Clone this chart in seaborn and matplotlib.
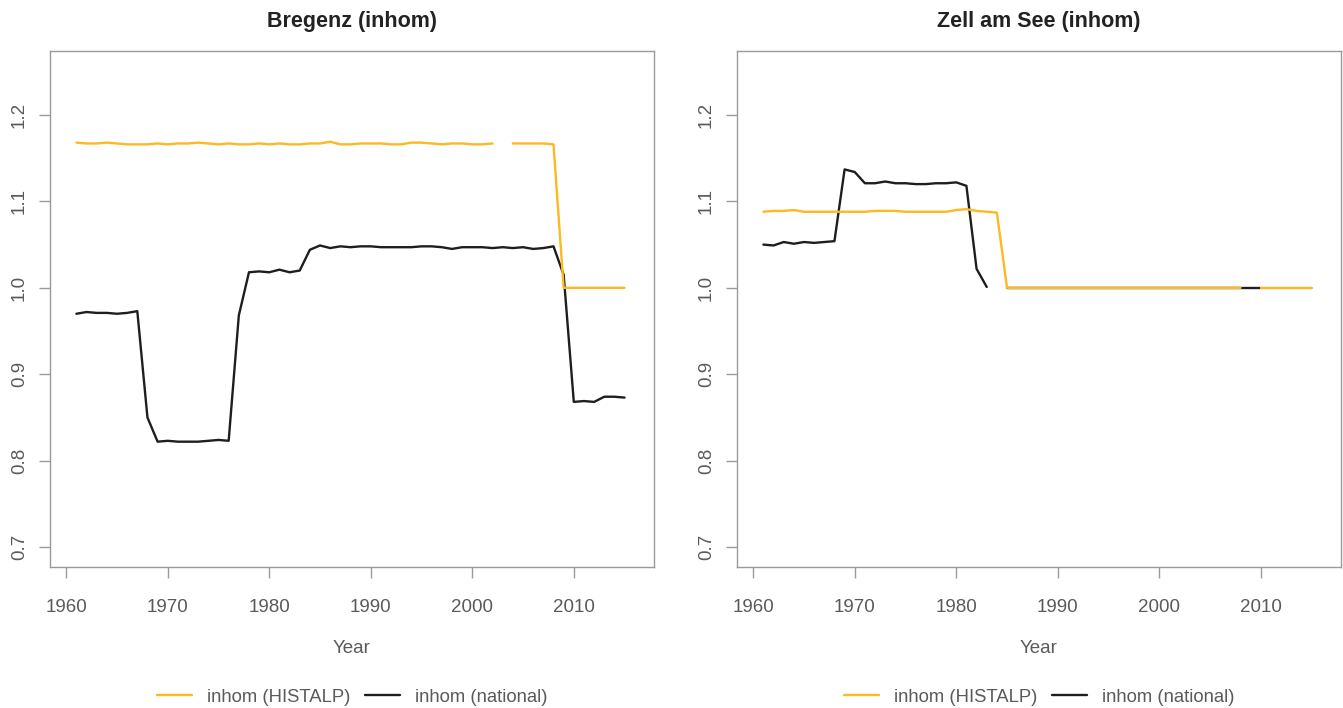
import numpy as np
import pandas as pd
import matplotlib
matplotlib.use("Agg")
import matplotlib.pyplot as plt
import seaborn as sns
from matplotlib.lines import Line2D

years = list(range(1961, 2016))

nan = np.nan
bregenz_histalp = [
    1.168, 1.167, 1.167, 1.168, 1.167, 1.166, 1.166, 1.166, 1.167, 1.166,
    1.167, 1.167, 1.168, 1.167, 1.166, 1.167, 1.166, 1.166, 1.167, 1.166,
    1.167, 1.166, 1.166, 1.167, 1.167, 1.169, 1.166, 1.166, 1.167, 1.167,
    1.167, 1.166, 1.166, 1.168, 1.168, 1.167, 1.166, 1.167, 1.167, 1.166,
    1.166, 1.167, nan, 1.167, 1.167, 1.167, 1.167, 1.166, 1.000, 1.000,
    1.000, 1.000, 1.000, 1.000, 1.000,
]
bregenz_national = [
    0.970, 0.972, 0.971, 0.971, 0.970, 0.971, 0.973, 0.850, 0.822, 0.823,
    0.822, 0.822, 0.822, 0.823, 0.824, 0.823, 0.968, 1.018, 1.019, 1.018,
    1.021, 1.018, 1.020, 1.044, 1.049, 1.046, 1.048, 1.047, 1.048, 1.048,
    1.047, 1.047, 1.047, 1.047, 1.048, 1.048, 1.047, 1.045, 1.047, 1.047,
    1.047, 1.046, 1.047, 1.046, 1.047, 1.045, 1.046, 1.048, 1.015, 0.868,
    0.869, 0.868, 0.874, 0.874, 0.873,
]
zell_histalp = [
    1.088, 1.089, 1.089, 1.090, 1.088, 1.088, 1.088, 1.088, 1.088, 1.088,
    1.088, 1.089, 1.089, 1.089, 1.088, 1.088, 1.088, 1.088, 1.088, 1.090,
    1.091, 1.089, 1.088, 1.087, 1.000, 1.000, 1.000, 1.000, 1.000, 1.000,
    1.000, 1.000, 1.000, 1.000, 1.000, 1.000, 1.000, 1.000, 1.000, 1.000,
    1.000, 1.000, 1.000, 1.000, 1.000, 1.000, 1.000, 1.000, nan, 1.000,
    1.000, 1.000, 1.000, 1.000, 1.000,
]
zell_national = [
    1.050, 1.049, 1.053, 1.051, 1.053, 1.052, 1.053, 1.054, 1.137, 1.134,
    1.121, 1.121, 1.123, 1.121, 1.121, 1.120, 1.120, 1.121, 1.121, 1.122,
    1.118, 1.022, 1.001, nan, 1.000, 1.000, 1.000, 1.000, 1.000, 1.000,
    1.000, 1.000, 1.000, 1.000, 1.000, 1.000, 1.000, 1.000, 1.000, 1.000,
    1.000, 1.000, 1.000, 1.000, 1.000, 1.000, 1.000, 1.000, 1.000, 1.000,
    nan, nan, nan, nan, nan,
]

panels = [
    ("Bregenz (inhom)", bregenz_histalp, bregenz_national),
    ("Zell am See (inhom)", zell_histalp, zell_national),
]
labels = ["inhom (HISTALP)", "inhom (national)"]
c_hist = "#fdb921"
c_nat = "#1e1e1e"
grey = "#9a9a9a"
txt = "#5a5a5a"

sns.set_theme(style="white")
plt.rcParams["font.family"] = ["Liberation Sans", "DejaVu Sans"]


def to_segments(vals):
    # break the series at missing years so gaps stay visible
    df = pd.DataFrame({"Year": years, "value": vals})
    df["seg"] = df["value"].isna().cumsum()
    return df.dropna()


fig = plt.figure(figsize=(13.43, 7.08), dpi=100)
lefts = [50 / 1343, 737 / 1343]
for (title, hist, nat), left in zip(panels, lefts):
    ax = fig.add_axes([left, 1 - 567 / 708, 604 / 1343, 516 / 708])
    sns.lineplot(data=to_segments(nat), x="Year", y="value", units="seg",
                 estimator=None, color=c_nat, lw=1.7, ax=ax, zorder=2)
    sns.lineplot(data=to_segments(hist), x="Year", y="value", units="seg",
                 estimator=None, color=c_hist, lw=1.7, ax=ax, zorder=3)
    ax.set_xlim(1958.4, 2017.9)
    ax.set_ylim(0.677, 1.274)
    ax.set_xticks([1960, 1970, 1980, 1990, 2000, 2010])
    ax.set_yticks([0.7, 0.8, 0.9, 1.0, 1.1, 1.2])
    ax.set_yticklabels(["0.7", "0.8", "0.9", "1.0", "1.1", "1.2"],
                       rotation=90, va="center")
    for s in ax.spines.values():
        s.set_color(grey)
        s.set_linewidth(1.0)
    ax.tick_params(axis="both", direction="out", length=8, width=1.0,
                   color=grey, labelcolor=txt, labelsize=13.5,
                   bottom=True, left=True)
    ax.tick_params(axis="x", pad=15)
    ax.tick_params(axis="y", pad=8)
    ax.set_xlabel("Year", color=txt, fontsize=13.5, labelpad=17)
    ax.set_ylabel("")
    ax.set_title(title, fontsize=15.5, fontweight="bold", color="#222222", pad=17)
    handles = [Line2D([], [], color=c_hist, lw=1.7),
               Line2D([], [], color=c_nat, lw=1.7)]
    ax.legend(handles, labels, loc="center", bbox_to_anchor=(0.5, -0.252),
              ncol=2, frameon=False, fontsize=13.3, labelcolor=txt,
              handlelength=1.9, columnspacing=0.8, handletextpad=0.8)

plt.savefig("out.png", dpi=100)
